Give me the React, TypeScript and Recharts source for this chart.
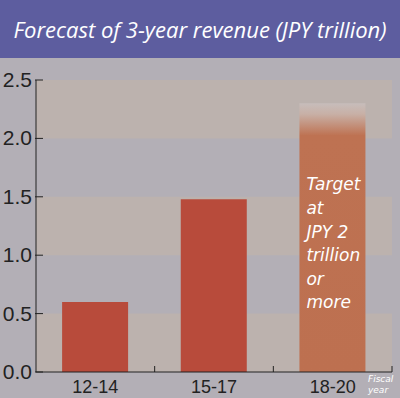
import React from 'react';
import { BarChart, Bar, XAxis, YAxis, ReferenceArea, Cell, LabelList } from 'recharts';

const periods = ['12-14', '15-17', '18-20'];
const revenue = [0.6, 1.48, 2.3];
const yTicks = [0, 0.5, 1.0, 1.5, 2.0, 2.5];
const bands = [[0, 0.5], [1.0, 1.5], [2.0, 2.5]];
const targetLines = ['Target', 'at', 'JPY 2', 'trillion', 'or', 'more'];
const unitLines = ['Fiscal', 'year'];

const data = periods.map((p, i) => ({ period: p, value: revenue[i] }));

const BG = '#B3AFB6';
const BAND = '#BCB2AE';
const BAR = '#B84B3B';
const AXIS = '#222';
const SANS = "'Liberation Sans', Arial, sans-serif";
const TITLE_FONT = "'Open Sans', sans-serif";
const NOTE_FONT = "'DejaVu Sans', Verdana, sans-serif";

function TargetLabel(props: any) {
  const { x, y, index } = props;
  if (index !== 2) return null;
  return (
    <text x={x + 7} y={y + 87} fill="#fff" fontFamily={NOTE_FONT} fontStyle="italic" fontSize={17}>
      {targetLines.map((t, i) => (
        <tspan key={t} x={x + 7} dy={i === 0 ? 0 : 23.6}>{t}</tspan>
      ))}
    </text>
  );
}

// category label plus a short inward tick at the right edge of each band
function PeriodTick(props: any) {
  const { x, y, payload } = props;
  const edge = x + (payload.offset || 0);
  return (
    <g>
      <line x1={edge} x2={edge} y1={y - 8} y2={y - 14} stroke={AXIS} />
      <text x={x} y={y + 13} textAnchor="middle" fill={AXIS} fontFamily={SANS} fontSize={18}>
        {payload.value}
      </text>
    </g>
  );
}

// value label with a tick that crosses the axis line
function ValueTick(props: any) {
  const { x, y, payload } = props;
  return (
    <g>
      <line x1={x + 3} x2={x + 11} y1={y} y2={y} stroke={AXIS} />
      <text x={x} y={y + 7} textAnchor="end" fill={AXIS} fontFamily={SANS} fontSize={21}>
        {payload.value.toFixed(1)}
      </text>
    </g>
  );
}

export default function App() {
  return (
    <div style={{ position: 'absolute', left: 0, top: 0, width: 400, height: 398, background: BG, overflow: 'hidden' }}>
      {/* Title bar */}
      <div style={{
        position: 'absolute', left: 0, top: 0, width: 400, height: 58,
        background: '#5D5D9F', color: '#fff', display: 'flex',
        alignItems: 'center', justifyContent: 'center',
        fontFamily: TITLE_FONT, fontStyle: 'italic', fontSize: 22,
      }}>
        Forecast of 3-year revenue (JPY trillion)
      </div>

      <BarChart width={400} height={398} data={data} barCategoryGap="22%"
        margin={{ top: 80, right: 8, left: 0, bottom: 0 }}>
        <defs>
          <linearGradient id="targetFade" x1="0" y1="0" x2="0" y2="1">
            <stop offset="0" stopColor="#C7BDBB" />
            <stop offset="0.04" stopColor="#C8B0A6" />
            <stop offset="0.12" stopColor="#BE7252" />
            <stop offset="1" stopColor="#BD7050" />
          </linearGradient>
        </defs>
        {bands.map(([a, b]) => (
          <ReferenceArea key={a} y1={a} y2={b} fill={BAND} fillOpacity={1} stroke="none" ifOverflow="extendDomain" />
        ))}
        <XAxis dataKey="period" height={26} axisLine={{ stroke: AXIS }} tickLine={false}
          tickSize={0} tickMargin={8} tick={PeriodTick} />
        <YAxis domain={[0, 2.5]} ticks={yTicks} width={36} interval={0}
          axisLine={{ stroke: AXIS }} tickLine={false} tickSize={0} tickMargin={4} tick={ValueTick} />
        <Bar dataKey="value" isAnimationActive={false}>
          {data.map((d, i) => (
            <Cell key={d.period} fill={i === 2 ? 'url(#targetFade)' : BAR} />
          ))}
          <LabelList dataKey="value" content={TargetLabel} />
        </Bar>
      </BarChart>

      {unitLines.map((t, i) => (
        <div key={t} style={{
          position: 'absolute', left: 368, top: 374 + i * 11, color: '#fff',
          fontFamily: NOTE_FONT, fontStyle: 'italic', fontSize: 9, lineHeight: '10px',
        }}>
          {t}
        </div>
      ))}
    </div>
  );
}
